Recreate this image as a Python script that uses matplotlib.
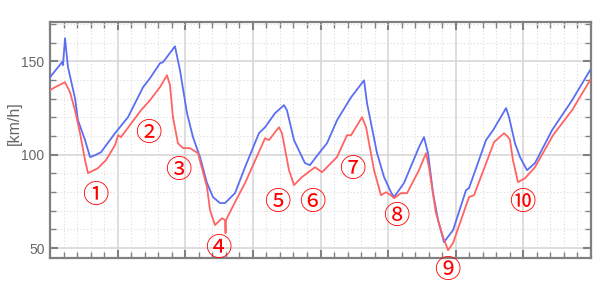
import matplotlib
matplotlib.use("Agg")
import matplotlib.pyplot as plt
from matplotlib.ticker import MultipleLocator, NullFormatter

# distance (arbitrary units) and speeds [km/h]
blue_x = [0.0, 0.89, 0.96, 1.11, 1.33, 1.85, 2.07, 2.59, 2.96, 3.33, 3.77, 4.81, 5.77, 6.88,
          7.39, 8.13, 8.36, 9.24, 9.61, 10.13, 10.57, 11.09, 11.61, 12.05, 12.57, 12.94,
          13.68, 14.42, 15.45, 15.90, 16.64, 17.30, 17.52, 18.04, 18.85, 19.22, 19.89,
          20.48, 21.22, 22.26, 23.22, 23.44, 24.18, 24.70, 25.21, 25.44, 26.17, 27.28,
          27.65, 27.95, 28.32, 28.69, 29.13, 29.80, 30.76, 30.98, 32.24, 32.76, 33.72,
          33.94, 34.38, 34.75, 35.27, 35.86, 37.12, 38.60, 39.93]
blue_y = [141.4, 149.5, 147.9, 162.3, 146.8, 130.2, 118.4, 107.8, 98.7, 99.7, 101.3, 111.5,
          120.1, 136.1, 140.9, 148.9, 149.5, 158.0, 145.2, 122.2, 109.4, 98.7, 84.8, 77.3,
          74.1, 74.1, 79.4, 93.3, 111.5, 114.7, 122.2, 126.5, 123.8, 107.8, 95.5, 94.4,
          100.8, 106.1, 118.4, 130.7, 139.8, 127.5, 100.8, 88.0, 79.9, 77.3, 84.8, 104.0,
          109.4, 100.8, 79.4, 65.0, 53.2, 59.6, 81.0, 82.1, 107.8, 113.1, 124.9, 120.1,
          106.1, 98.7, 91.7, 95.5, 113.1, 129.1, 145.2]

red_x = [0.0, 0.37, 1.11, 1.48, 1.85, 2.22, 2.59, 2.81, 3.55, 4.14, 4.81, 5.03, 5.25, 6.73,
         7.39, 8.13, 8.65, 8.87, 9.09, 9.46, 9.83, 10.35, 10.94, 11.61, 11.83, 12.20, 12.72,
         12.94, 12.98, 13.01, 13.31, 13.68, 14.42, 15.90, 16.19, 16.93, 17.15, 17.67, 18.04,
         18.63, 19.59, 20.11, 20.48, 21.22, 21.96, 22.26, 23.07, 23.37, 23.96, 24.47, 24.84,
         25.21, 25.44, 25.95, 26.40, 27.28, 27.80, 28.02, 28.54, 29.06, 29.43, 29.80, 30.98,
         31.35, 32.83, 33.57, 33.87, 34.01, 34.23, 34.60, 35.12, 35.86, 37.19, 38.60, 39.93]
red_y = [134.5, 136.1, 138.8, 133.4, 123.8, 111.5, 97.1, 90.1, 92.8, 97.1, 105.1, 110.4,
         109.4, 123.8, 129.1, 136.1, 142.5, 137.2, 120.1, 106.1, 103.5, 103.5, 100.8, 82.6,
         70.3, 62.3, 66.0, 65.0, 58.0, 65.0, 69.3, 74.6, 84.8, 108.8, 107.8, 114.7, 111.5,
         91.7, 83.7, 88.0, 93.3, 90.6, 93.3, 98.7, 110.4, 110.4, 120.1, 114.7, 91.7, 78.3,
         79.9, 78.3, 76.7, 79.4, 79.4, 91.7, 100.8, 93.3, 68.7, 55.9, 48.9, 52.7, 77.3,
         78.3, 106.7, 111.5, 109.4, 107.8, 97.1, 85.3, 87.4, 93.3, 110.4, 123.8, 139.8]

labels = ["①", "②", "③", "④", "⑤", "⑥", "⑦", "⑧", "⑨", "⑩"]
label_x = [3.33, 7.25, 9.46, 12.42, 16.78, 19.37, 22.33, 25.58, 29.35, 34.9]
label_y = [78.3, 111.5, 91.7, 50.0, 74.6, 74.6, 92.2, 67.1, 38.2, 74.6]

fig = plt.figure(figsize=(6, 3), dpi=100)
ax = fig.add_axes([50/600, 42/300, 541/600, 236/300])

ax.plot(blue_x, blue_y, color="#5b6ef2", lw=1.3, zorder=3)
ax.plot(red_x, red_y, color="#ff6464", lw=1.3, zorder=3)

ax.set_xlim(0, 40)
ax.set_ylim(44.7, 171)

ax.xaxis.set_major_locator(MultipleLocator(5))
ax.xaxis.set_minor_locator(MultipleLocator(1))
ax.yaxis.set_major_locator(MultipleLocator(50))
ax.yaxis.set_minor_locator(MultipleLocator(10))
ax.xaxis.set_major_formatter(NullFormatter())

ax.grid(which="major", color="#d4d4d4", lw=1.1, ls="-", zorder=0)
ax.grid(which="minor", color="#dcdcdc", lw=0.8, ls=(0, (1, 2)), zorder=0)

ax.tick_params(which="both", direction="in", top=True, right=True, color="#808080")
ax.tick_params(which="major", length=6, width=1.5, labelsize=10, labelcolor="#666666", pad=4)
ax.tick_params(which="minor", length=4, width=1.0)
for lab in ax.get_yticklabels():
    lab.set_family("Liberation Sans")

for sp in ax.spines.values():
    sp.set_color("#808080")
    sp.set_linewidth(1.6)

ax.set_ylabel("[km/h]", color="#666666", fontsize=11.5, family="Liberation Sans")
ax.yaxis.set_label_coords(-0.052, 0.57)

for t, x, y in zip(labels, label_x, label_y):
    ax.text(x, y, t, color="#ff0000", fontsize=19, ha="center", va="center",
            family=["Noto Sans CJK JP", "DejaVu Sans"], clip_on=False, zorder=4)

fig.savefig("out.png", dpi=100)
